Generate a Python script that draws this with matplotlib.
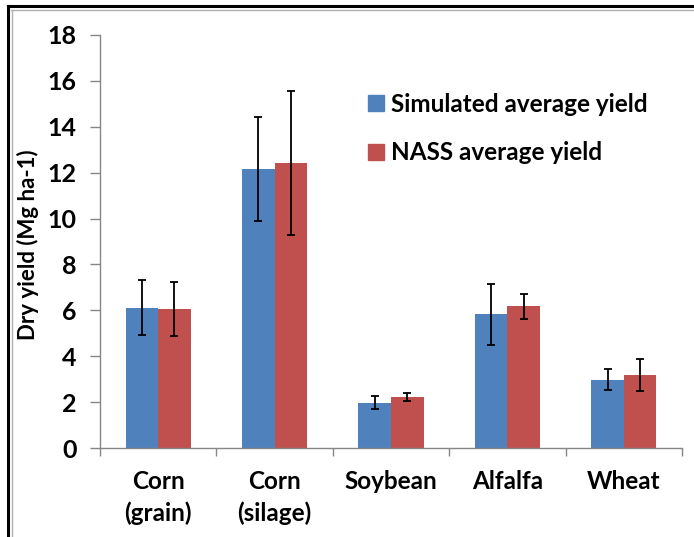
import matplotlib
matplotlib.use("Agg")
import matplotlib.pyplot as plt
from matplotlib.lines import Line2D
from matplotlib.patches import Patch
import numpy as np

categories = ["Corn\n(grain)", "Corn\n(silage)", "Soybean", "Alfalfa", "Wheat"]
simulated = [6.12, 12.16, 1.98, 5.83, 2.98]
simulated_err = [1.20, 2.26, 0.28, 1.32, 0.45]
nass = [6.06, 12.42, 2.22, 6.18, 3.18]
nass_err = [1.18, 3.13, 0.17, 0.55, 0.68]
y_ticks = [0, 2, 4, 6, 8, 10, 12, 14, 16, 18]

BLUE = "#4F81BD"
RED = "#C0504D"
GRID = "#868686"

plt.rcParams["font.family"] = ["Lato", "DejaVu Sans"]
plt.rcParams["font.weight"] = "bold"

W, H = 694, 537
fig = plt.figure(figsize=(W / 100, H / 100), dpi=100)
ax = fig.add_axes([100 / W, 1 - 448 / H, 582 / W, (448 - 35) / H])

x = np.arange(len(categories))
bw = 0.28
err_kw = dict(ecolor="black", elinewidth=1.3, capsize=3, capthick=1.3)
ax.bar(x - bw / 2, simulated, bw, color=BLUE, yerr=simulated_err,
       error_kw=err_kw, label="Simulated average yield", zorder=2)
ax.bar(x + bw / 2, nass, bw, color=RED, yerr=nass_err,
       error_kw=err_kw, label="NASS average yield", zorder=2)

ax.set_xlim(-0.5, len(categories) - 0.5)
ax.set_ylim(0, 18)
ax.set_yticks(y_ticks)
ax.set_yticklabels([str(t) for t in y_ticks], fontsize=18, fontweight="bold")

# category boundary ticks, labels centred in each slot
ax.set_xticks(np.arange(len(categories) + 1) - 0.5)
ax.set_xticklabels([])
ax.tick_params(axis="x", length=6, color=GRID, width=1)
ax.tick_params(axis="y", length=7, color=GRID, width=1, pad=10)
for xi, lab in zip(x, categories):
    ax.text(xi, -0.95, lab, ha="center", va="top", fontsize=17.5,
            fontweight="bold", linespacing=1.45)

for side in ("top", "right"):
    ax.spines[side].set_visible(False)
for side in ("left", "bottom"):
    ax.spines[side].set_color(GRID)
    ax.spines[side].set_linewidth(1)

fig.text(28 / W, 1 - 245 / H, "Dry yield (Mg ha-1)", rotation=90,
         ha="center", va="center", fontsize=16, fontweight="bold")

handles = [Patch(color=BLUE), Patch(color=RED)]
fig.legend(handles, ["Simulated average yield", "NASS average yield"],
           loc="upper left", bbox_to_anchor=(346 / W, 1 - 71 / H),
           frameon=False, handlelength=0.65, handleheight=0.65,
           handletextpad=0.3, labelspacing=1.05,
           prop={"weight": "bold", "size": 17.5})

# frame lines along the top and left edges
fig.add_artist(Line2D([8 / W, 1], [1 - 6 / H, 1 - 6 / H], color="black", lw=2.2))
fig.add_artist(Line2D([8 / W, 8 / W], [0, 1 - 6 / H], color="black", lw=2.2))
fig.add_artist(Line2D([11 / W, 1], [1 - 10 / H, 1 - 10 / H], color="#B0B0B0", lw=1))
fig.add_artist(Line2D([12 / W, 12 / W], [0, 1 - 10 / H], color="#B0B0B0", lw=1))

fig.savefig("out.png", dpi=100)
